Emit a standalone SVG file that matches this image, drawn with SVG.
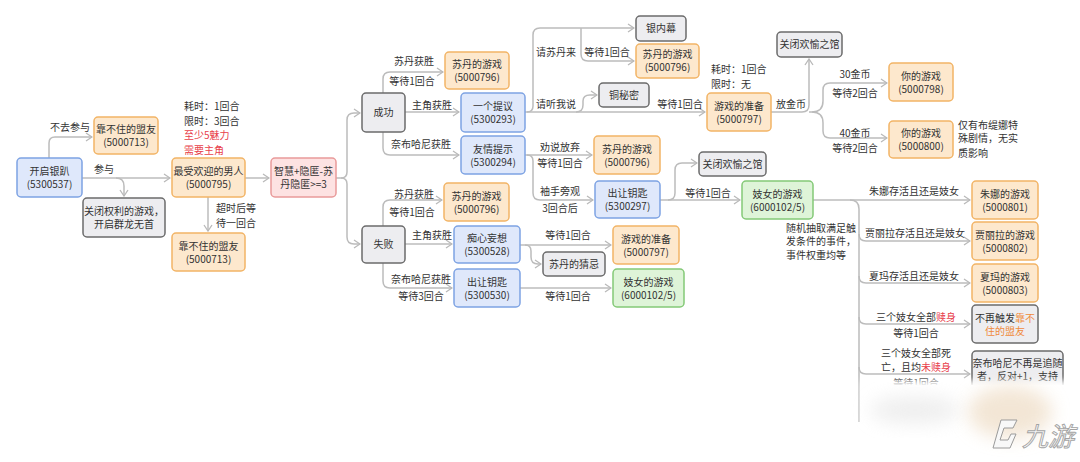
<svg xmlns="http://www.w3.org/2000/svg" width="1080" height="462" viewBox="0 0 1080 462">
<defs>
<marker id="ar" viewBox="0 0 8 10" refX="7" refY="5" markerWidth="8" markerHeight="10" markerUnits="userSpaceOnUse" orient="auto">
<path d="M1,1 L7,5 L1,9" fill="none" stroke="#b9b9b9" stroke-width="1.3"/>
</marker>
<filter id="bl" x="-20%" y="-20%" width="140%" height="140%"><feGaussianBlur stdDeviation="3"/></filter>
<filter id="bl2" x="-50%" y="-50%" width="200%" height="200%"><feGaussianBlur stdDeviation="9"/></filter>
<style>
text{font-family:"Noto Sans CJK SC","Noto Sans",sans-serif;font-size:10px;fill:#333}
.m{text-anchor:middle}
.r{fill:#e8404a}
.o{fill:#f08a3c}
.n rect{rx:4;ry:4;stroke-width:1.5}
.or rect{fill:#fde8cd;stroke:#f2b466}
.bu rect{fill:#dfe8fb;stroke:#7ea3e3}
.gy rect{fill:#ededf0;stroke:#6b6b6b}
.pk rect{fill:#fde2e2;stroke:#e99a9a}
.gr rect{fill:#def4d8;stroke:#84c977}
#conn path{fill:none;stroke:#bcbcbc;stroke-width:1.5}
</style>
</defs>
<rect width="1080" height="462" fill="#fff"/>

<g id="conn">
<path d="M49,158 V143 Q49,137 55,137 H92" marker-end="url(#ar)"/>
<path d="M82,178 H170" marker-end="url(#ar)"/>
<path d="M116,178 Q124,178 124,186 V196" marker-end="url(#ar)"/>
<path d="M245,178 H269" marker-end="url(#ar)"/>
<path d="M208,197 V231" marker-end="url(#ar)"/>
<path d="M336,178 H341 Q347,178 347,172 V120 Q347,113 354,113 H360" marker-end="url(#ar)"/>
<path d="M341,178 Q347,178 347,184 V237 Q347,244 354,244 H360" marker-end="url(#ar)"/>
<path d="M383,93 V79 Q383,72 390,72 H443" marker-end="url(#ar)"/>
<path d="M405,112 H459" marker-end="url(#ar)"/>
<path d="M383,132 V148 Q383,155 390,155 H459" marker-end="url(#ar)"/>
<path d="M525,112 H705" marker-end="url(#ar)"/>
<path d="M527,112 Q533,112 533,106 V35 Q533,28 540,28 H634" marker-end="url(#ar)"/>
<path d="M581,28 V54 Q581,61 588,61 H634" marker-end="url(#ar)"/>
<path d="M576,112 Q583,112 583,105 V101 Q583,95 590,95 H597" marker-end="url(#ar)"/>
<path d="M525,155 H592" marker-end="url(#ar)"/>
<path d="M527,155 Q533,155 533,161 V193 Q533,200 540,200 H593" marker-end="url(#ar)"/>
<path d="M660,200 H740" marker-end="url(#ar)"/>
<path d="M668,200 Q675,200 675,193 V170 Q675,163 682,163 H697" marker-end="url(#ar)"/>
<path d="M771,112 H802 Q809,112 809,105 V59" marker-end="url(#ar)"/>
<path d="M809,112 H812 Q823,112 823,101 V90 Q823,83 830,83 H887" marker-end="url(#ar)"/>
<path d="M812,112 Q823,112 823,123 V131 Q823,138 830,138 H887" marker-end="url(#ar)"/>
<path d="M813,200 H970" marker-end="url(#ar)"/>
<path d="M850,200 Q859,200 859,209 V422"/>
<path d="M859,234 Q859,241 866,241 H970" marker-end="url(#ar)"/>
<path d="M859,276 Q859,283 866,283 H970" marker-end="url(#ar)"/>
<path d="M859,317 Q859,324 866,324 H970" marker-end="url(#ar)"/>
<path d="M859,367 Q859,374 866,374 H970" marker-end="url(#ar)"/>
<path d="M383,226 V207 Q383,200 390,200 H442" marker-end="url(#ar)"/>
<path d="M405,244 H452" marker-end="url(#ar)"/>
<path d="M383,263 V281 Q383,288 390,288 H452" marker-end="url(#ar)"/>
<path d="M520,245 H611" marker-end="url(#ar)"/>
<path d="M525,245 Q531,245 531,251 V257 Q531,264 538,264 H541" marker-end="url(#ar)"/>
<path d="M520,288 H611" marker-end="url(#ar)"/>
</g>

<g id="labels">
<text class="m" x="70" y="131">不去参与</text>
<text class="m" x="104" y="173">参与</text>
<text x="184" y="110">耗时：1回合</text>
<text x="184" y="125">限时：3回合</text>
<text x="184" y="139" class="r">至少5魅力</text>
<text x="184" y="154" class="r">需要主角</text>
<text x="216" y="212">超时后等</text>
<text x="216" y="227">待一回合</text>
<text class="m" x="414" y="65">苏丹获胜</text>
<text class="m" x="412" y="85">等待1回合</text>
<text class="m" x="432" y="109">主角获胜</text>
<text class="m" x="421" y="148">奈布哈尼获胜</text>
<text class="m" x="556" y="56">请苏丹来</text>
<text class="m" x="607" y="56">等待1回合</text>
<text class="m" x="556" y="108">请听我说</text>
<text class="m" x="680" y="108">等待1回合</text>
<text x="711" y="73">耗时：1回合</text>
<text x="711" y="88">限时：无</text>
<text class="m" x="560" y="151">劝说放弃</text>
<text class="m" x="560" y="167">等待1回合</text>
<text class="m" x="560" y="195">袖手旁观</text>
<text class="m" x="560" y="212">3回合后</text>
<text class="m" x="708" y="197">等待1回合</text>
<text x="776" y="108">放金币</text>
<text class="m" x="855" y="78">30金币</text>
<text class="m" x="855" y="97">等待2回合</text>
<text class="m" x="855" y="137">40金币</text>
<text class="m" x="855" y="152">等待2回合</text>
<text x="958" y="129">仅有布缇娜特</text>
<text x="958" y="142">殊剧情，无实</text>
<text x="958" y="157">质影响</text>
<text x="786" y="232">随机抽取满足触</text>
<text x="786" y="245">发条件的事件，</text>
<text x="786" y="259">事件权重均等</text>
<text class="m" x="914" y="195">朱娜存活且还是妓女</text>
<text class="m" x="915" y="237">贾丽拉存活且还是妓女</text>
<text class="m" x="914" y="280">夏玛存活且还是妓女</text>
<text class="m" x="916" y="321">三个妓女全部<tspan class="r">赎身</tspan></text>
<text class="m" x="916" y="337">等待1回合</text>
<text class="m" x="916" y="357">三个妓女全部死</text>
<text class="m" x="916" y="371">亡，且均<tspan class="r">未赎身</tspan></text>
<text class="m" x="916" y="387">等待1回合</text>
<text class="m" x="414" y="198">苏丹获胜</text>
<text class="m" x="412" y="216">等待1回合</text>
<text class="m" x="432" y="239">主角获胜</text>
<text class="m" x="421" y="283">奈布哈尼获胜</text>
<text class="m" x="421" y="300">等待3回合</text>
<text class="m" x="568" y="239">等待1回合</text>
<text class="m" x="568" y="300">等待1回合</text>
</g>

<g id="n-start" class="n bu"><rect x="17" y="158" width="65" height="39"/><text class="m" x="49.5" y="175">开启银趴</text><text class="m" x="49.5" y="188">(5300537)</text></g>
<g id="n-unreliable1" class="n or"><rect x="94" y="117" width="64" height="37"/><text class="m" x="126" y="133">靠不住的盟友</text><text class="m" x="126" y="146">(5000713)</text></g>
<g id="n-closepower" class="n gy"><rect x="83" y="198" width="82" height="39"/><text class="m" x="124" y="215">关闭权利的游戏，</text><text class="m" x="124" y="228">开启群龙无首</text></g>
<g id="n-popular" class="n or"><rect x="172" y="158" width="73" height="39"/><text class="m" x="208.5" y="175">最受欢迎的男人</text><text class="m" x="208.5" y="188">(5000795)</text></g>
<g id="n-unreliable2" class="n or"><rect x="172" y="233" width="73" height="38"/><text class="m" x="208.5" y="249.5">靠不住的盟友</text><text class="m" x="208.5" y="262.5">(5000713)</text></g>
<g id="n-check" class="n pk"><rect x="271" y="158" width="65" height="39"/><text class="m" x="303.5" y="175">智慧+隐匿-苏</text><text class="m" x="303.5" y="188">丹隐匿&gt;=3</text></g>
<g id="n-success" class="n gy"><rect x="362" y="93" width="43" height="39"/><text class="m" x="383.5" y="116">成功</text></g>
<g id="n-fail" class="n gy"><rect x="362" y="226" width="43" height="37"/><text class="m" x="383.5" y="248">失败</text></g>
<g id="n-sudan1" class="n or"><rect x="445" y="52" width="64" height="37"/><text class="m" x="477" y="68">苏丹的游戏</text><text class="m" x="477" y="81">(5000796)</text></g>
<g id="n-proposal" class="n bu"><rect x="461" y="93" width="64" height="39"/><text class="m" x="493" y="110">一个提议</text><text class="m" x="493" y="123">(5300293)</text></g>
<g id="n-friendly" class="n bu"><rect x="461" y="136" width="64" height="38"/><text class="m" x="493" y="152.5">友情提示</text><text class="m" x="493" y="165.5">(5300294)</text></g>
<g id="n-silver" class="n gy"><rect x="636" y="16" width="50" height="25"/><text class="m" x="661" y="32">银内幕</text></g>
<g id="n-sudan2" class="n or"><rect x="636" y="44" width="63" height="34"/><text class="m" x="667.5" y="58">苏丹的游戏</text><text class="m" x="667.5" y="71">(5000796)</text></g>
<g id="n-copper" class="n gy"><rect x="599" y="83" width="50" height="24"/><text class="m" x="624" y="98.5">铜秘密</text></g>
<g id="n-prep1" class="n or"><rect x="707" y="93" width="64" height="38"/><text class="m" x="739" y="109.5">游戏的准备</text><text class="m" x="739" y="122.5">(5000797)</text></g>
<g id="n-sudan3" class="n or"><rect x="594" y="136" width="66" height="38"/><text class="m" x="627" y="152.5">苏丹的游戏</text><text class="m" x="627" y="165.5">(5000796)</text></g>
<g id="n-key1" class="n bu"><rect x="595" y="181" width="65" height="37"/><text class="m" x="627.5" y="197">出让钥匙</text><text class="m" x="627.5" y="210">(5300297)</text></g>
<g id="n-closehouse1" class="n gy"><rect x="777" y="32" width="65" height="25"/><text class="m" x="809.5" y="48">关闭欢愉之馆</text></g>
<g id="n-your1" class="n or"><rect x="889" y="63" width="64" height="38"/><text class="m" x="921" y="79.5">你的游戏</text><text class="m" x="921" y="92.5">(5000798)</text></g>
<g id="n-your2" class="n or"><rect x="889" y="121" width="64" height="37"/><text class="m" x="921" y="137">你的游戏</text><text class="m" x="921" y="150">(5000800)</text></g>
<g id="n-closehouse2" class="n gy"><rect x="699" y="152" width="67" height="24"/><text class="m" x="732.5" y="167.5">关闭欢愉之馆</text></g>
<g id="n-prostitute1" class="n gr"><rect x="742" y="181" width="71" height="38"/><text class="m" x="777.5" y="197.5">妓女的游戏</text><text class="m" x="777.5" y="210.5">(6000102/5)</text></g>
<g id="n-zhuna" class="n or"><rect x="972" y="181" width="66" height="38"/><text class="m" x="1005" y="197.5">朱娜的游戏</text><text class="m" x="1005" y="210.5">(5000801)</text></g>
<g id="n-jiali" class="n or"><rect x="972" y="222" width="66" height="38"/><text class="m" x="1005" y="238.5">贾丽拉的游戏</text><text class="m" x="1005" y="251.5">(5000802)</text></g>
<g id="n-xiama" class="n or"><rect x="972" y="264" width="66" height="38"/><text class="m" x="1005" y="280.5">夏玛的游戏</text><text class="m" x="1005" y="293.5">(5000803)</text></g>
<g id="n-notrigger" class="n gy"><rect x="972" y="305" width="66" height="38"/><text class="m" x="1005" y="321.5">不再触发<tspan class="o">靠不</tspan></text><text class="m o" x="1005" y="334.5">住的盟友</text></g>
<g id="n-naibu" class="n gy"><rect x="972" y="351" width="91" height="60"/><text class="m" x="1017.5" y="367">奈布哈尼不再是追随</text><text class="m" x="1017.5" y="380">者，反对+1，支持</text></g>
<g id="n-sudan4" class="n or"><rect x="444" y="183" width="65" height="38"/><text class="m" x="476.5" y="199.5">苏丹的游戏</text><text class="m" x="476.5" y="212.5">(5000796)</text></g>
<g id="n-delusion" class="n bu"><rect x="454" y="226" width="66" height="37"/><text class="m" x="487" y="242">痴心妄想</text><text class="m" x="487" y="255">(5300528)</text></g>
<g id="n-key2" class="n bu"><rect x="454" y="269" width="66" height="38"/><text class="m" x="487" y="285.5">出让钥匙</text><text class="m" x="487" y="298.5">(5300530)</text></g>
<g id="n-suspicion" class="n gy"><rect x="543" y="252" width="62" height="24"/><text class="m" x="574" y="267.5">苏丹的猜忌</text></g>
<g id="n-prep2" class="n or"><rect x="613" y="226" width="66" height="38"/><text class="m" x="646" y="242.5">游戏的准备</text><text class="m" x="646" y="255.5">(5000797)</text></g>
<g id="n-prostitute2" class="n gr"><rect x="613" y="269" width="71" height="38"/><text class="m" x="648.5" y="285.5">妓女的游戏</text><text class="m" x="648.5" y="298.5">(6000102/5)</text></g>

<g id="watermark">
<rect x="861" y="381" width="240" height="100" fill="#fff" filter="url(#bl)"/>
<rect x="864" y="385" width="216" height="77" fill="#fff"/>
<ellipse cx="915" cy="410" rx="45" ry="14" fill="#e4e4e4" opacity="0.6" filter="url(#bl2)"/>
<ellipse cx="1010" cy="412" rx="42" ry="26" fill="#eedcc4" opacity="0.7" filter="url(#bl2)"/>
<path d="M1001,420 H1017 L1013,428 H1004 L1000,440 H1008 L1011,434 H1016 L1010,448 H993 Z" fill="#f8f8f8" stroke="#9a9a9a" stroke-width="1"/>
<text x="1022" y="446" style="font-size:26px;font-style:italic;fill:#fafafa;stroke:#a3a3a3;stroke-width:0.9">九游</text>
</g>
</svg>
